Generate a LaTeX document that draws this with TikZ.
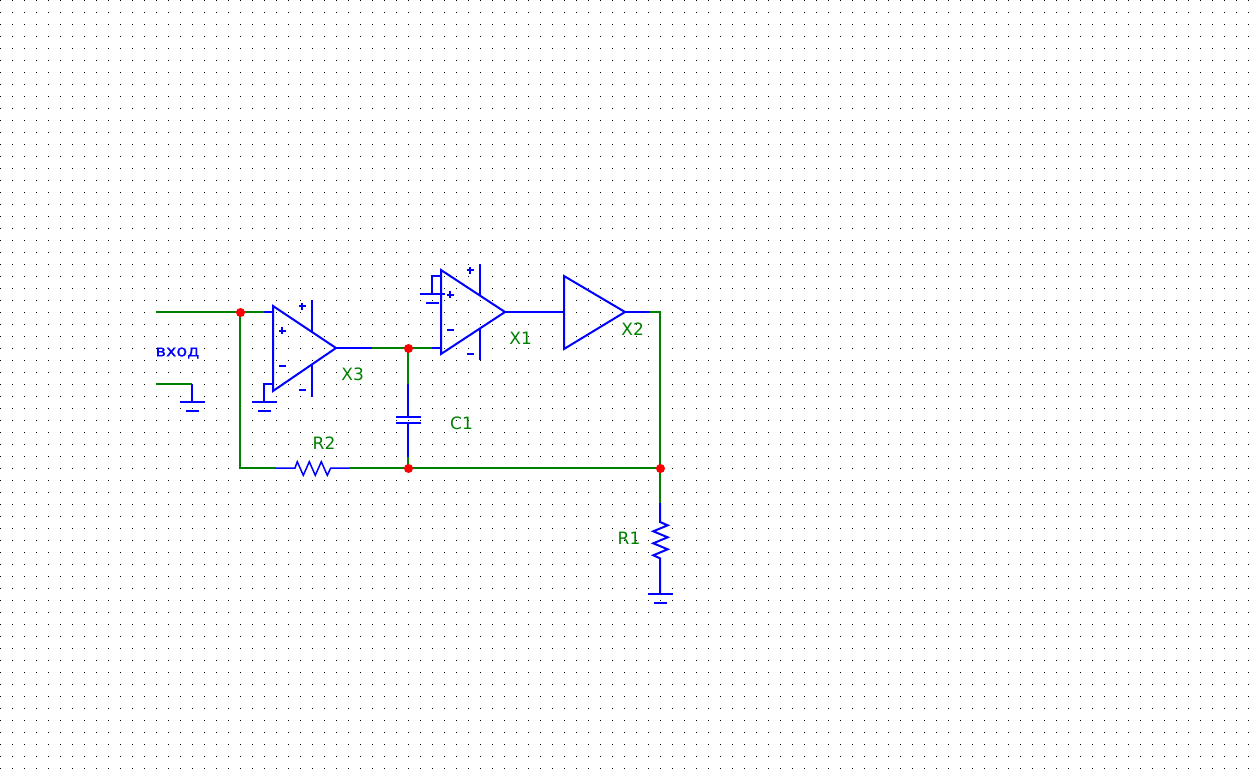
\documentclass[tikz,border=0pt]{standalone}
\usepackage{fontspec}
\setmainfont{DejaVu Sans}
\definecolor{wiregreen}{RGB}{0,128,0}
\definecolor{partblue}{RGB}{0,0,255}
\tikzset{
  part/.style={draw=partblue,line width=2pt,line cap=butt,line join=miter},
  wire/.style={draw=wiregreen,line width=2.2pt},
  junction/.style={circle,fill=red,draw=none,minimum size=9pt,inner sep=0pt},
  reftext/.style={text=wiregreen,font=\fontsize{17}{17}\selectfont,inner sep=0pt},
  nettext/.style={text=partblue,font=\fontsize{16}{16}\selectfont,inner sep=0pt,xscale=1.1},
  pinsign/.style={fill=partblue,draw=none}
}
\begin{document}
\begin{tikzpicture}[x=1pt,y=-1pt]
\useasboundingbox (0,0) rectangle (1251,779);
\fill[white] (0,0) rectangle (1251,779);
% grid
\foreach \gx in {0,12,...,1248}{\foreach \gy in {0,12,...,768}{\fill[black] (\gx,\gy) rectangle ++(1,1);}}
% wire points
\coordinate (inA) at (156,312);
\coordinate (inB) at (156,384);
\coordinate (a1) at (264,312);
\coordinate (a2) at (273,312);
\coordinate (a3) at (372,348);
\coordinate (a4) at (432,348);
\coordinate (a5) at (441,348);
\coordinate (x3o) at (336,348);
\coordinate (x1o) at (505,312);
\coordinate (x2i) at (564,312);
\coordinate (x2o) at (625,312);
\coordinate (a6) at (650,312);
\coordinate (a7) at (660,312);
\coordinate (c1t) at (408,384);
\coordinate (c1b) at (408,457);
\coordinate (r2c) at (240,468);
\coordinate (r2l) at (276,468);
\coordinate (r2r) at (349,468);
\coordinate (r1t) at (660,503);
\coordinate (g0) at (192,384);
% green wiring
\draw[wire] (inA) -- (a1);
\draw[wire] (inB) -- (g0);
\draw[wire] (240,312) -- (r2c) -- (r2l);
\draw[wire] (a3) -- (a4);
\draw[wire] (408,348) -- (c1t);
\draw[wire] (c1b) -- (408,468);
\draw[wire] (r2r) -- (660,468);
\draw[wire] (a6) -- (a7) -- (660,468);
\draw[wire] (660,468) -- (r1t);
% blue wiring
\draw[part] (a1) -- (a2);
\draw[part] (x3o) -- (a3);
\draw[part] (a4) -- (a5);
\draw[part] (x1o) -- (x2i);
\draw[part] (x2o) -- (a6);
% X3
\draw[part] (273,306) -- (273,391) -- (336,348) -- cycle;
\draw[part] (312,300) -- (312,332);
\draw[part] (312,365) -- (312,397);
\fill[pinsign] (298.5,305) rectangle (305.5,307); \fill[pinsign] (301,302.5) rectangle (303,309.5);
\fill[pinsign] (298.5,389) rectangle (305.5,391);
\fill[pinsign] (278.5,329.5) rectangle (285.5,331.5); \fill[pinsign] (281,327) rectangle (283,334);
\fill[pinsign] (278.5,365) rectangle (285.5,367);
\draw[part] (273,384) -- (264,384) -- (264,402);
\draw[part] (252,402) -- (277,402);
\draw[part] (258,411) -- (271,411);
% left ground
\draw[part] (g0) -- (192,402);
\draw[part] (180,402) -- (205,402);
\draw[part] (186,411) -- (199,411);
% X1
\draw[part] (441,270) -- (441,354) -- (505,312) -- cycle;
\draw[part] (480,264) -- (480,296);
\draw[part] (480,328) -- (480,360);
\fill[pinsign] (466.5,269) rectangle (473.5,271); \fill[pinsign] (469,266.5) rectangle (471,273.5);
\fill[pinsign] (466.5,353) rectangle (473.5,355);
\fill[pinsign] (446.5,293.5) rectangle (453.5,295.5); \fill[pinsign] (449,291) rectangle (451,298);
\fill[pinsign] (446.5,329) rectangle (453.5,331);
\draw[part] (441,276) -- (432,276) -- (432,294);
\draw[part] (420,294) -- (445,294);
\draw[part] (426,303) -- (439,303);
% X2
\draw[part] (564,276) -- (564,349) -- (625,312) -- cycle;
% C1
\draw[part] (c1t) -- (408,417);
\draw[part] (396,417) -- (421,417);
\draw[part] (396,423) -- (421,423);
\draw[part] (408,423) -- (c1b);
% R2
\draw[part,line width=1.5pt] (r2l) -- (295,468) -- (297.3,461.7) -- (303.3,475.3) -- (309.3,461.7) -- (315.3,475.3) -- (321.3,461.7) -- (327.3,475.3) -- (330.7,468) -- (r2r);
% R1
\draw[part] (r1t) -- (660,522) -- (667.7,525.3) -- (653.3,531.3) -- (667.7,537.3) -- (653.3,543.3) -- (667.7,549.3) -- (653.3,555.3) -- (660,558.3) -- (660,594);
\draw[part] (648,594) -- (673,594);
\draw[part] (654,603) -- (667,603);
% junctions
\node[junction,at={(240.5,312.5)}] (j1) {};
\node[junction,at={(408.5,348.5)}] (j2) {};
\node[junction,at={(408.5,468.5)}] (j3) {};
\node[junction,at={(660.5,468.5)}] (j4) {};
% labels
\node[nettext] (vhod) at (177.5,353) {\addfontfeature{FakeBold=0.6}вход};
\node[reftext] (lx3) at (352.7,374.7) {X3};
\node[reftext] (lx1) at (520.7,338.5) {X1};
\node[reftext] (lx2) at (632.7,329) {X2};
\node[reftext] (lc1) at (461.5,423) {C1};
\node[reftext] (lr2) at (324,443) {R2};
\node[reftext] (lr1) at (629,538.7) {R1};
\end{tikzpicture}
\end{document}
